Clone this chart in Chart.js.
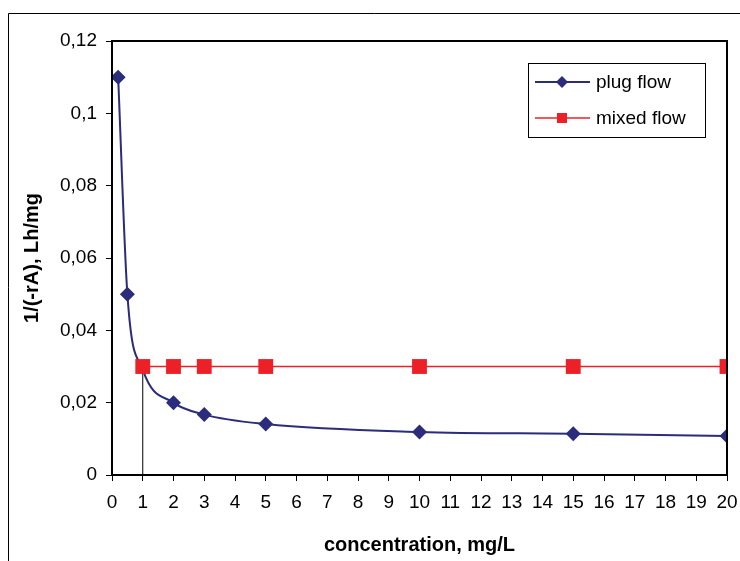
<!DOCTYPE html>
<html>
<head>
<meta charset="utf-8">
<script src="https://cdn.jsdelivr.net/npm/chart.js@4.4.0/dist/chart.umd.min.js"></script>
<style>
  html, body { margin: 0; padding: 0; background: #fff; }
  #wrap { width: 740px; height: 561px; position: relative; }
</style>
</head>
<body>
<div id="wrap"><canvas id="flowChart"></canvas></div>
<script>
// values
const plugX = [0.2, 0.5, 1, 2, 3, 5, 10, 15, 20];
const plugY = [0.110, 0.050, 0.0292, 0.0200, 0.0167, 0.0141, 0.0119, 0.0114, 0.0108];
const mixedX = [1, 2, 3, 5, 10, 15, 20];
const mixedY = [0.03, 0.03, 0.03, 0.03, 0.03, 0.03, 0.03];
const markX = [1, 1];
const markY = [0, 0.03];

const seriesNames = ['plug flow', 'mixed flow'];
const navy = '#2b2c7c';
const red = '#ee2027';

const pts = (xs, ys) => xs.map((x, i) => ({ x: x, y: ys[i] }));

// frame, plot box and the boxed legend
const extras = {
    id: 'extras',
    afterDraw(chart) {
        const ctx = chart.ctx;
        const a = chart.chartArea;
        ctx.save();
        ctx.strokeStyle = '#000';
        ctx.lineWidth = 1;
        ctx.beginPath();
        ctx.moveTo(8.5, 561);
        ctx.lineTo(8.5, 13.5);
        ctx.lineTo(740, 13.5);
        ctx.stroke();

        ctx.lineWidth = 2;
        ctx.strokeRect(a.left, a.top, a.right - a.left, a.bottom - a.top);

        // legend
        ctx.lineWidth = 1;
        ctx.strokeRect(528.5, 63.5, 177, 74);
        ctx.font = '19px "Liberation Sans", Arial, sans-serif';
        ctx.textBaseline = 'middle';
        ctx.fillStyle = '#000';
        const rows = [
            { y: 82, color: navy, shape: 'diamond' },
            { y: 118, color: red, shape: 'square' }
        ];
        rows.forEach((r, i) => {
            ctx.strokeStyle = r.color;
            ctx.lineWidth = i === 0 ? 2 : 1.5;
            ctx.beginPath();
            ctx.moveTo(535, r.y);
            ctx.lineTo(590, r.y);
            ctx.stroke();
            ctx.fillStyle = r.color;
            ctx.beginPath();
            if (r.shape === 'diamond') {
                ctx.moveTo(562, r.y - 6);
                ctx.lineTo(568, r.y);
                ctx.lineTo(562, r.y + 6);
                ctx.lineTo(556, r.y);
                ctx.closePath();
            } else {
                ctx.rect(557, r.y - 5, 10, 10);
            }
            ctx.fill();
            ctx.fillStyle = '#000';
            ctx.fillText(seriesNames[i], 596, r.y + 1);
        });
        ctx.restore();
    }
};

new Chart(document.getElementById('flowChart'), {
    type: 'scatter',
    data: {
        datasets: [
            {
                label: seriesNames[1],
                data: pts(mixedX, mixedY),
                showLine: true,
                borderColor: red,
                backgroundColor: red,
                borderWidth: 1.5,
                pointStyle: 'rect',
                pointRadius: 10.5,
                pointBorderWidth: 0,
                order: 0
            },
            {
                label: seriesNames[0],
                data: pts(plugX, plugY),
                showLine: true,
                borderColor: navy,
                backgroundColor: navy,
                borderWidth: 2,
                cubicInterpolationMode: 'monotone',
                pointStyle: 'rectRot',
                pointRadius: c => (c.raw && c.raw.x === 1 ? 0 : 7.5),
                pointBorderWidth: 0,
                order: 1
            },
            {
                label: 'marker',
                data: pts(markX, markY),
                showLine: true,
                borderColor: '#000',
                borderWidth: 1,
                pointRadius: 0,
                order: 2
            }
        ]
    },
    options: {
        responsive: true,
        maintainAspectRatio: false,
        animation: false,
        layout: { padding: { left: 8, top: 41, right: 13, bottom: 0 } },
        plugins: {
            legend: { display: false },
            tooltip: { enabled: false }
        },
        scales: {
            x: {
                type: 'linear',
                min: 0,
                max: 20,
                afterFit: s => { s.height = 86; s.paddingRight = 0; s.paddingLeft = 0; },
                ticks: {
                    stepSize: 1,
                    color: '#000',
                    padding: 10,
                    maxRotation: 0,
                    autoSkip: false,
                    font: { family: '"Liberation Sans", Arial, sans-serif', size: 19 }
                },
                grid: { drawOnChartArea: false, color: '#000', tickLength: 6, lineWidth: 1 },
                border: { color: '#000', width: 2 },
                title: {
                    display: true,
                    text: 'concentration, mg/L',
                    color: '#000',
                    padding: { top: 0, bottom: 4 },
                    font: { family: '"Liberation Sans", Arial, sans-serif', size: 20, weight: 'bold' }
                }
            },
            y: {
                min: 0,
                max: 0.12,
                afterFit: s => { s.width = 104; },
                ticks: {
                    stepSize: 0.02,
                    color: '#000',
                    padding: 9,
                    font: { family: '"Liberation Sans", Arial, sans-serif', size: 19 },
                    callback: v => String(Number(v.toFixed(2))).replace('.', ',')
                },
                grid: { drawOnChartArea: false, color: '#000', tickLength: 6, lineWidth: 1 },
                border: { color: '#000', width: 2 },
                title: {
                    display: true,
                    text: '1/(-rA), Lh/mg',
                    color: '#000',
                    padding: { top: 12, bottom: 0 },
                    font: { family: '"Liberation Sans", Arial, sans-serif', size: 20, weight: 'bold' }
                }
            }
        }
    },
    plugins: [extras]
});
</script>
</body>
</html>
